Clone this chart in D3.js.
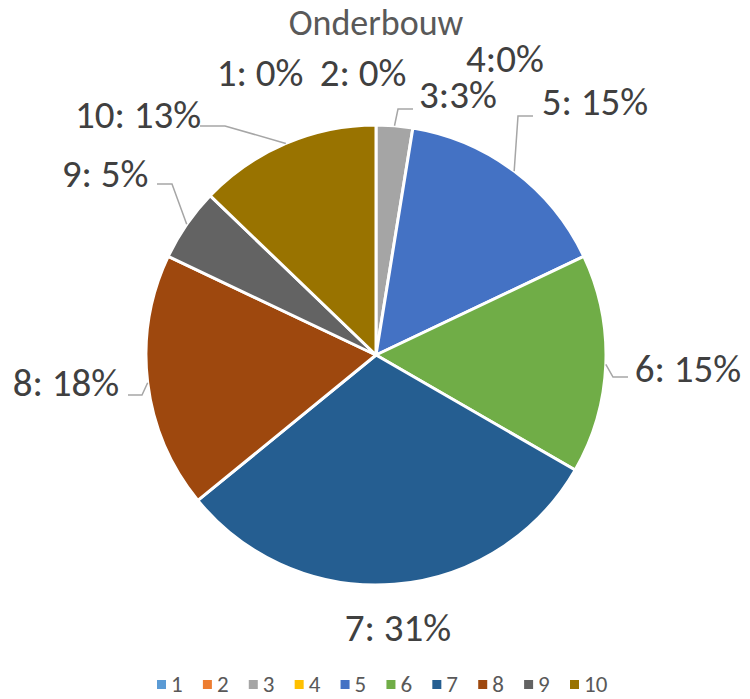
<!DOCTYPE html>
<html>
<head>
<meta charset="utf-8">
<script src="https://cdn.jsdelivr.net/npm/d3@7"></script>
<style>
  body { margin: 0; background: #fff; }
  svg { font-family: Calibri, Carlito, "Liberation Sans", sans-serif; }
</style>
</head>
<body>
<div id="chart"></div>
<script>
var categories = ["1", "2", "3", "4", "5", "6", "7", "8", "9", "10"];
var counts = [0, 0, 1, 0, 6, 6, 12, 7, 2, 5];
var labels = ["1: 0%", "2: 0%", "3:3%", "4:0%", "5: 15%", "6: 15%", "7: 31%", "8: 18%", "9: 5%", "10: 13%"];
var colors = ["#5b9bd5", "#ed7d31", "#a5a5a5", "#ffc000", "#4472c4", "#70ad47", "#255e91", "#9e480e", "#636363", "#997300"];

// label spots as Excel placed them (centre x, baseline y, elbow)
var labelSpots = [
  {x: 260, y: 86},
  {x: 363, y: 86},
  {x: 458, y: 108, ex: 398, ey: 109, lx: 413},
  {x: 505, y: 72},
  {x: 595, y: 115, ex: 518, ey: 116, lx: 533},
  {x: 688, y: 382, ex: 613, ey: 377, lx: 628},
  {x: 398, y: 641},
  {x: 66, y: 396, ex: 142, ey: 395, lx: 128},
  {x: 105, y: 187, ex: 172, ey: 184, lx: 157},
  {x: 138, y: 128, ex: 225, ey: 126, lx: 200}
];

var width = 750, height = 699;
var cx = 376, cy = 355, radius = 230;

var svg = d3.select("#chart").append("svg")
  .attr("width", width)
  .attr("height", height);

svg.append("text")
  .attr("x", 376).attr("y", 35)
  .attr("text-anchor", "middle")
  .style("font-size", "36px")
  .style("fill", "#595959")
  .text("Onderbouw");

var pie = d3.pie().sort(null).value(function(d) { return d; });
var arcs = pie(counts);
var arc = d3.arc().innerRadius(0).outerRadius(radius);
var edge = d3.arc().innerRadius(radius).outerRadius(radius);

var g = svg.append("g").attr("transform", "translate(" + cx + "," + cy + ")");

g.selectAll("path.slice")
  .data(arcs.filter(function(d) { return d.value > 0; }))
  .enter().append("path")
  .attr("class", "slice")
  .attr("d", arc)
  .attr("fill", function(d) { return colors[d.index]; })
  .attr("stroke", "#fff")
  .attr("stroke-width", 3)
  .attr("stroke-linejoin", "round");

// leader lines
arcs.forEach(function(d, i) {
  var s = labelSpots[i];
  if (s.ex === undefined) return;
  var p = edge.centroid(d);
  svg.append("polyline")
    .attr("points", [[s.lx, s.ey], [s.ex, s.ey], [cx + p[0], cy + p[1]]].map(function(q) { return q.join(","); }).join(" "))
    .attr("fill", "none")
    .attr("stroke", "#a6a6a6")
    .attr("stroke-width", 1.5);
});

svg.selectAll("text.lbl")
  .data(labels)
  .enter().append("text")
  .attr("class", "lbl")
  .attr("x", function(d, i) { return labelSpots[i].x; })
  .attr("y", function(d, i) { return labelSpots[i].y; })
  .attr("text-anchor", "middle")
  .style("font-size", "39px")
  .style("fill", "#404040")
  .text(function(d) { return d; });

// legend
var legendX = d3.scalePoint().domain(categories).range([157, 570]);
var leg = svg.selectAll("g.leg")
  .data(categories)
  .enter().append("g")
  .attr("class", "leg")
  .attr("transform", function(d) { return "translate(" + legendX(d) + ",680)"; });
leg.append("rect")
  .attr("width", 9).attr("height", 9)
  .attr("fill", function(d, i) { return colors[i]; });
leg.append("text")
  .attr("x", 14).attr("y", 12)
  .style("font-size", "23px")
  .style("fill", "#595959")
  .text(function(d) { return d; });
</script>
</body>
</html>
